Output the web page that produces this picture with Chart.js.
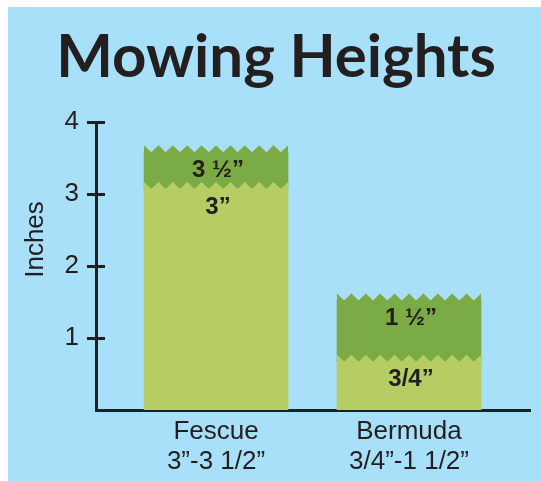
<!DOCTYPE html>
<html><head><meta charset="utf-8">
<script src="https://cdn.jsdelivr.net/npm/chart.js@4.4.1/dist/chart.umd.min.js"></script>
<style>
html,body{margin:0;padding:0;background:#fff;width:541px;height:481px;overflow:hidden}
#wrap{position:absolute;left:8px;top:7px;width:533px;height:474px;background:#a9e0f9}
canvas{display:block}
</style></head><body>
<div id="wrap"><canvas id="c" width="533" height="474"></canvas></div>
<script>
const categories = ['Fescue', 'Bermuda'];
const rangeLabels = ['3”-3 1/2”', '3/4”-1 1/2”'];
const lowHeights = [3.07, 0.67];
const highHeights = [3.58, 1.52];
const lowLabels = ['3”', '3/4”'];
const highLabels = ['3 ½”', '1 ½”'];
const yTicks = [1, 2, 3, 4];

const INK = '#231f20';
const LIGHT = '#b5cd63';
const DARK = '#7bab44';
const FONT = "'Liberation Sans', Arial, sans-serif";

const lowData = categories.map((_, i) => ({x: i, y: [0, lowHeights[i]]}));
const highData = categories.map((_, i) => ({x: i, y: [lowHeights[i], highHeights[i]]}));

const grassPlugin = {
  id: 'grass',
  afterDatasetsDraw(chart) {
    const ctx = chart.ctx;
    const teeth = (dsIndex) => {
      const meta = chart.getDatasetMeta(dsIndex);
      const color = chart.data.datasets[dsIndex].backgroundColor;
      meta.data.forEach(el => {
        const {x, y, width} = el.getProps(['x', 'y', 'width'], true);
        const left = x - width / 2, n = 10, p = width / n, amp = 7;
        ctx.save();
        ctx.fillStyle = color;
        ctx.beginPath();
        ctx.moveTo(left, y + 1);
        ctx.lineTo(left, y - amp);
        for (let i = 0; i < n; i++) {
          ctx.lineTo(left + (i + 0.5) * p, y);
          ctx.lineTo(left + (i + 1) * p, y - amp);
        }
        ctx.lineTo(left + width, y + 1);
        ctx.closePath();
        ctx.fill();
        ctx.restore();
      });
    };
    teeth(1);
    teeth(0);
    const labels = (dsIndex, texts) => {
      const meta = chart.getDatasetMeta(dsIndex);
      meta.data.forEach((el, i) => {
        const {x, y} = el.getProps(['x', 'y'], true);
        ctx.save();
        ctx.font = 'bold 24px ' + FONT;
        ctx.fillStyle = INK;
        ctx.textAlign = 'center';
        ctx.textBaseline = 'middle';
        ctx.fillText(texts[i], x + 2, y + 18);
        ctx.restore();
      });
    };
    labels(1, highLabels);
    labels(0, lowLabels);
  },
  afterDraw(chart) {
    const ctx = chart.ctx;
    const ys = chart.scales.y;
    const left = chart.chartArea.left;
    ctx.save();
    ctx.strokeStyle = INK;
    ctx.lineWidth = 3;
    yTicks.forEach(v => {
      const py = Math.round(ys.getPixelForValue(v)) + 0.5;
      ctx.beginPath();
      ctx.moveTo(left, py);
      ctx.lineTo(left + 9, py);
      ctx.stroke();
    });
    ctx.translate(28, 232.5);
    ctx.rotate(-Math.PI / 2);
    ctx.font = '26px ' + FONT;
    ctx.fillStyle = INK;
    ctx.textAlign = 'center';
    ctx.textBaseline = 'middle';
    ctx.fillText('Inches', 0, 0);
    ctx.restore();
  }
};

new Chart(document.getElementById('c'), {
  type: 'bar',
  data: {
    datasets: [
      {data: lowData, backgroundColor: LIGHT, grouped: false, barThickness: 144, borderWidth: 0},
      {data: highData, backgroundColor: DARK, grouped: false, barThickness: 144, borderWidth: 0}
    ]
  },
  options: {
    responsive: false,
    animation: false,
    events: [],
    layout: {padding: {left: 14, right: 11, top: 0, bottom: 0}},
    plugins: {
      legend: {display: false},
      tooltip: {enabled: false},
      title: {
        display: true,
        text: 'Mowing Heights',
        color: INK,
        font: {family: 'Lato', size: 60, weight: 'bold', lineHeight: 1},
        padding: {top: 21, bottom: 34}
      }
    },
    scales: {
      x: {
        type: 'linear',
        offset: false,
        min: -0.622,
        max: 1.627,
        afterBuildTicks: s => { s.ticks = categories.map((_, i) => ({value: i})); },
        afterFit: s => { s.height = 71; },
        grid: {display: true, drawOnChartArea: false, drawTicks: false, color: 'rgba(0,0,0,0)'},
        border: {display: true, color: INK, width: 3},
        ticks: {
          callback: v => [categories[v], rangeLabels[v]],
          font: {family: FONT, size: 26, lineHeight: 1.154},
          color: INK,
          padding: 7,
          maxRotation: 0,
          autoSkip: false
        }
      },
      y: {
        min: 0,
        max: 4,
        afterBuildTicks: s => { s.ticks = yTicks.map(v => ({value: v})); },
        afterFit: s => { s.width = 74; },
        grid: {display: true, drawOnChartArea: false, drawTicks: true, tickLength: 9, tickWidth: 3, tickColor: INK, color: 'rgba(0,0,0,0)'},
        border: {display: true, color: INK, width: 3},
        ticks: {font: {family: FONT, size: 26}, color: INK, padding: 8}
      }
    }
  },
  plugins: [grassPlugin]
});
</script>
</body></html>
